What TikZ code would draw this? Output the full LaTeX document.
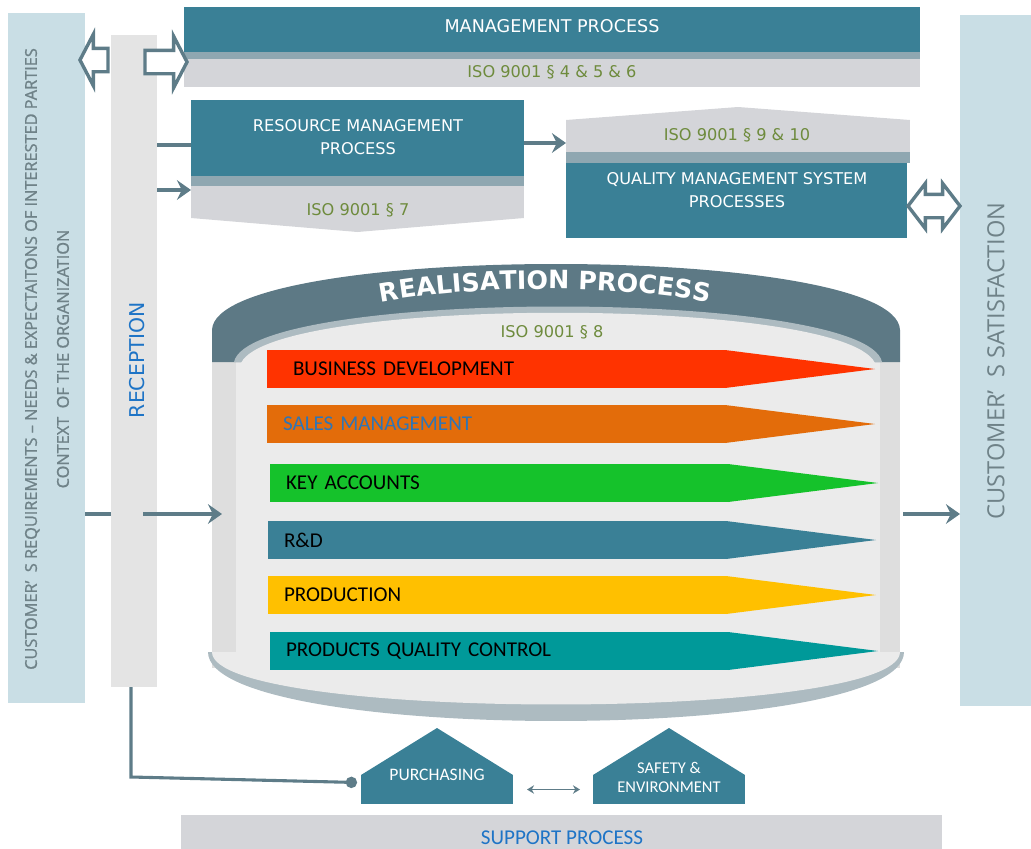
\documentclass[tikz,border=0pt]{standalone}
\usepackage{fontspec}
\setmainfont{Carlito}
\newfontfamily\dejavu{DejaVu Sans}
\newfontfamily\opensans{Open Sans}
\newfontfamily\opensansb[FakeBold=1.2]{Open Sans}
\usetikzlibrary{shapes.arrows, arrows.meta, positioning, calc, decorations.text}
\definecolor{procteal}{HTML}{3A8096}
\definecolor{stripe}{HTML}{8FA7B1}
\definecolor{isogray}{HTML}{D4D5D9}
\definecolor{isogreen}{HTML}{6E8B3D}
\definecolor{colblue}{HTML}{C9DEE5}
\definecolor{recgray}{HTML}{E4E4E4}
\definecolor{linkgray}{HTML}{5E7C88}
\definecolor{drumdark}{HTML}{5D7985}
\definecolor{drumrim}{HTML}{ADBBC1}
\definecolor{drumlight}{HTML}{EBEBEB}
\definecolor{drumside}{HTML}{DEDEDE}
\definecolor{coltext}{HTML}{6F8288}
\definecolor{recblue}{HTML}{1E74C6}
\definecolor{bandred}{HTML}{FF3300}
\definecolor{bandorange}{HTML}{E36C0A}
\definecolor{bandgreen}{HTML}{15C22B}
\definecolor{bandyellow}{HTML}{FFC000}
\definecolor{bandcyan}{HTML}{009999}
\definecolor{salesblue}{HTML}{2E75B6}
\newlength{\px}
\setlength{\px}{0.025cm}
\tikzset{
  fillbox/.style={rectangle, draw=none, inner sep=0pt, outer sep=0pt, anchor=north west},
  wtxt/.style={text=white, font=\dejavu\fontsize{11.5}{16.5}\selectfont, align=center},
  isotxt/.style={text=isogreen, font=\dejavu\fontsize{11.5}{14}\selectfont},
  vtxt/.style={rotate=90, align=center, anchor=center},
  bandbox/.style={fillbox, minimum width=458\px, minimum height=38\px, text width=426\px,
    inner xsep=16\px, align=left, font=\fontsize{15}{15}\selectfont},
  housetxt/.style={text=white, align=center, font=\fontsize{12.5}{13.5}\selectfont},
  hollow/.style={single arrow, draw=linkgray, line width=2.4pt, fill=white, inner sep=0pt,
    text height=20\px, text depth=0pt, single arrow head extend=14\px, single arrow tip angle=125},
  hollowdbl/.style={double arrow, draw=linkgray, line width=2.4pt, fill=white, inner sep=0pt,
    text height=20\px, text depth=0pt, double arrow head extend=11\px, double arrow tip angle=105},
  ln/.style={draw=linkgray, line width=2.6pt},
  ar/.style={ln, -{Stealth[length=10pt, width=14pt, inset=3.5pt]}},
  thinar/.style={draw=linkgray, line width=1.3pt, {Stealth[length=5pt, width=6pt]}-{Stealth[length=5pt, width=6pt]}},
}
% one coloured stage of the realisation process
\newcommand{\band}[6]{%
  \node[bandbox, fill=#4, text=#5] (#1) at (#2,#3) {#6};
  \fill[#4] (#1.north east) -- ([xshift=150\px]#1.east) -- (#1.south east) -- cycle;
}
\begin{document}
\begin{tikzpicture}[x=0.025cm, y=-0.025cm]
\useasboundingbox (0,0) rectangle (1031,848);

% side columns
\node[fillbox, fill=colblue, minimum width=77\px, minimum height=690\px] (CUST) at (8,13) {};
\node[fillbox, fill=recgray, minimum width=46\px, minimum height=652\px] (REC) at (111,35) {};
\node[fillbox, fill=colblue, minimum width=71\px, minimum height=691\px] (SAT) at (960,15) {};
\node[vtxt, text=coltext, font=\opensansb\fontsize{11.6}{22.7}\selectfont] (CUSTt) at (47,359)
  {CUSTOMER’\ \ S REQUIREMENTS – NEEDS \& EXPECTAITONS OF INTERESTED PARTIES\\CONTEXT\ \ OF THE ORGANIZATION};
\node[vtxt, text=recblue, font=\dejavu\fontsize{14.5}{15}\selectfont] (RECt) at (137,360) {RECEPTION};
\node[vtxt, text=coltext, font=\opensans\fontsize{16.8}{17}\selectfont] (SATt) at (996,361) {CUSTOMER’\ \ S SATISFACTION};

% management process
\node[fillbox, fill=procteal, minimum width=736\px, minimum height=45\px] (MP) at (184,7) {};
\node[fillbox, fill=stripe, minimum width=736\px, minimum height=7\px] (MPs) at (184,52) {};
\node[fillbox, fill=isogray, minimum width=736\px, minimum height=28\px] (MPiso) at (184,59) {};
\node[wtxt, font=\dejavu\fontsize{12.5}{14}\selectfont] (MPt) at (552,26) {MANAGEMENT PROCESS};
\node[isotxt] (MPisot) at (552,72) {ISO 9001 § 4 \& 5 \& 6};

% resource management
\node[fillbox, fill=procteal, minimum width=333\px, minimum height=76\px] (RM) at (191,100) {};
\node[fillbox, fill=stripe, minimum width=333\px, minimum height=10\px] (RMs) at (191,176) {};
\node[fillbox, fill=isogray, minimum width=333\px, minimum height=32\px] (RMiso) at (191,186) {};
\fill[isogray] (RMiso.south west) -- ([yshift=-14\px]RMiso.south) -- (RMiso.south east) -- cycle;
\node[wtxt] (RMt) at (358,137) {RESOURCE MANAGEMENT\\PROCESS};
\node[isotxt] (RMisot) at (358,210) {ISO 9001 § 7};

% quality management system
\node[fillbox, fill=isogray, minimum width=344\px, minimum height=32\px] (QMSiso) at (566,120) {};
\fill[isogray] (QMSiso.north west) -- ([yshift=13\px]QMSiso.north) -- (QMSiso.north east) -- cycle;
\node[fillbox, fill=stripe, minimum width=344\px, minimum height=11\px] (QMSs) at (566,152) {};
\node[fillbox, fill=procteal, minimum width=341\px, minimum height=75\px] (QMS) at (566,163) {};
\node[isotxt] (QMSisot) at (737,135) {ISO 9001 § 9 \& 10};
\node[wtxt] (QMSt) at (737,190) {QUALITY MANAGEMENT SYSTEM\\PROCESSES};

% realisation drum
\node[fillbox, fill=drumlight, minimum width=688\px, minimum height=308\px] (DRUM) at (212,360) {};
\fill[drumside] (DRUM.north west) rectangle ([xshift=24\px]DRUM.south west);
\fill[drumside] ([xshift=-20\px]DRUM.north east) rectangle (DRUM.south east);
\fill[drumrim] (208,652) .. controls (208,744) and (904,744) .. (904,652) -- cycle;
\fill[drumlight] (212,652) .. controls (212,722) and (900,722) .. (900,652) -- cycle;
\fill[drumdark] (212,362) -- (212,330) .. controls (215,242) and (897,242) .. (900,330) -- (900,362) -- cycle;
\fill[drumrim] (234,362) .. controls (250,288) and (866,288) .. (882,362) -- cycle;
\fill[drumlight] (240,366) .. controls (256,295) and (860,295) .. (876,366) -- cycle;
\path[decorate, decoration={text along path, text align=center,
  text={|\dejavu\bfseries\fontsize{18}{18}\selectfont\color{white}|REALISATION PROCESS}}]
  (372,304) .. controls (470,284) and (620,284) .. (718,304);
\node[isotxt] (DRUMiso) at (552,332) {ISO 9001 § 8};

% stages
\band{BD}{267}{350}{bandred}{black}{\hspace*{10\px}BUSINESS DEVELOPMENT}
\band{SM}{267}{405}{bandorange}{salesblue}{SALES MANAGEMENT}
\band{KA}{270}{464}{bandgreen}{black}{KEY ACCOUNTS}
\band{RD}{268}{521}{procteal}{black}{R\&D}
\band{PR}{268}{576}{bandyellow}{black}{PRODUCTION}
\band{PQC}{270}{632}{bandcyan}{black}{PRODUCTS QUALITY CONTROL}

% support
\node[fillbox, fill=procteal, minimum width=152\px, minimum height=29\px] (PUR) at (361,775) {};
\fill[procteal] (PUR.north west) -- ([yshift=47\px]PUR.north) -- (PUR.north east) -- cycle;
\node[fillbox, fill=procteal, minimum width=152\px, minimum height=29\px] (SAF) at (593,775) {};
\fill[procteal] (SAF.north west) -- ([yshift=47\px]SAF.north) -- (SAF.north east) -- cycle;
\node[housetxt] (PURt) at (437,775) {PURCHASING};
\node[housetxt, font=\fontsize{11.7}{13.5}\selectfont] (SAFt) at (669,777) {SAFETY \&\\ENVIRONMENT};
\node[fillbox, fill=isogray, minimum width=761\px, minimum height=40\px] (SUP) at (181,815) {};
\node[text=recblue, font=\fontsize{15}{15}\selectfont] (SUPt) at (562,838) {SUPPORT PROCESS};

% hollow arrows
\node[hollow, shape border rotate=180, minimum height=28\px] (HL) at (97,60) {};
\node[hollow, minimum height=42\px] (HR) at (163,62) {};
\node[hollowdbl, minimum height=52\px] (QMSarr) at (934,206) {};

% connectors
\coordinate (RMin) at ([yshift=-7\px]RM.west);
\coordinate (RMin2) at ([yshift=12\px]RMiso.west);
\draw[ln] (REC.east |- RMin) -- (RMin);
\draw[ar] (REC.east |- RMin2) -- (RMin2);
\draw[ar] ([yshift=-5\px]RM.east) -- ([yshift=-5\px]RM.east -| QMSiso.west);
\draw[ln] (CUST.east |- DRUM.west) -- (REC.west |- DRUM.west);
\draw[ar] ([xshift=-14\px]REC.east |- DRUM.west) -- ([xshift=10\px]DRUM.west);
\draw[ar] ([xshift=3\px]DRUM.east) -- (SAT.west |- DRUM.east);
\draw[draw=linkgray, line width=2.2pt, -{Circle[length=8pt]}]
  ([xshift=-3\px]REC.south) -- ++(0,90) -- ([xshift=-4\px, yshift=7\px]PUR.west);
\draw[thinar] ([xshift=14\px]PUR.east) -- ([xshift=-13\px]SAF.west);

\end{tikzpicture}
\end{document}
